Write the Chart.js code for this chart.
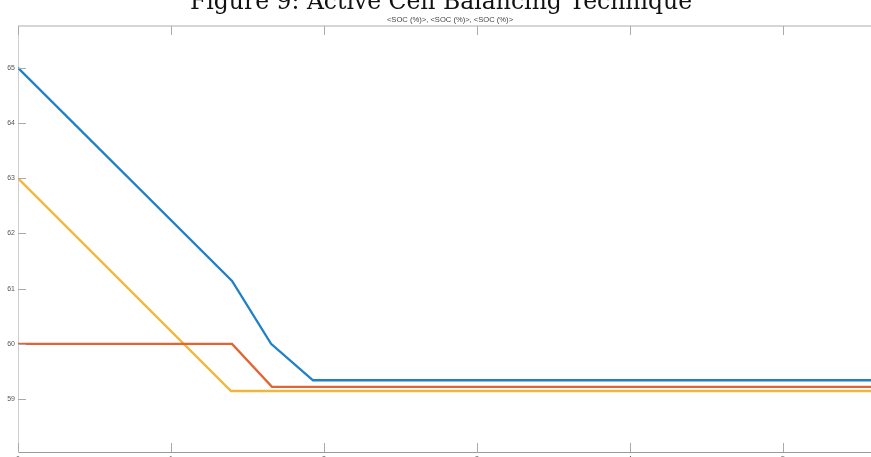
<!DOCTYPE html>
<html>
<head>
<meta charset="utf-8">
<script src="https://cdn.jsdelivr.net/npm/chart.js@4/dist/chart.umd.min.js"></script>
<style>
  html, body { margin: 0; padding: 0; background: #fff; overflow: hidden; }
  #wrap { width: 871px; height: 457px; overflow: hidden; position: relative; }
</style>
</head>
<body>
<div id="wrap"><canvas id="soc" width="950" height="470"></canvas></div>
<script>
// time axis (tick units), and SOC (%) of the three cells
const xTicks = [0, 1, 2, 3, 4, 5, 6];
const yTicks = [59, 60, 61, 62, 63, 64, 65];

const cell1Time = [0, 1.399, 1.654, 1.928, 6];
const cell1Soc = [65, 61.14, 60.0, 59.34, 59.34];

const cell2Time = [0, 1.399, 1.66, 6];
const cell2Soc = [60, 60, 59.22, 59.22];

const cell3Time = [0, 1.392, 6];
const cell3Soc = [63, 59.145, 59.145];

const toPoints = (xs, ys) => xs.map((x, i) => ({ x: x, y: ys[i] }));

// title sits half above the canvas, like the cropped figure
const figureTitle = {
  id: 'figureTitle',
  afterDraw(chart) {
    const ctx = chart.ctx;
    ctx.save();
    ctx.fillStyle = '#111';
    ctx.textAlign = 'center';
    ctx.textBaseline = 'alphabetic';
    ctx.font = '23.5px "DejaVu Serif"';
    ctx.fillText('Figure 9: Active Cell Balancing Technique', 441, 8.5);
    ctx.fillStyle = '#444';
    ctx.font = '7.6px "Liberation Sans"';
    ctx.fillText('<SOC (%)>, <SOC (%)>, <SOC (%)>', 450, 22);
    ctx.restore();
  }
};

// matlab style box with inward tick marks
const boxTicks = {
  id: 'boxTicks',
  afterDatasetsDraw(chart) {
    const { ctx, chartArea: a, scales } = chart;
    ctx.save();
    ctx.strokeStyle = '#d6d6d6';
    ctx.lineWidth = 2;
    ctx.beginPath();
    ctx.moveTo(a.left, a.top);
    ctx.lineTo(a.right, a.top);
    ctx.stroke();
    ctx.strokeStyle = '#aaa';
    ctx.lineWidth = 1;
    ctx.beginPath();
    xTicks.forEach(v => {
      const px = Math.round(scales.x.getPixelForValue(v)) + 0.5;
      ctx.moveTo(px, a.bottom);
      ctx.lineTo(px, a.bottom - 9);
      ctx.moveTo(px, a.top);
      ctx.lineTo(px, a.top + 9);
    });
    yTicks.forEach(v => {
      const py = Math.round(scales.y.getPixelForValue(v)) + 0.5;
      ctx.moveTo(a.left, py);
      ctx.lineTo(a.left + 8, py);
    });
    ctx.stroke();
    ctx.restore();
  }
};

const ctx = document.getElementById('soc').getContext('2d');
new Chart(ctx, {
  type: 'scatter',
  data: {
    datasets: [
      { data: toPoints(cell1Time, cell1Soc), borderColor: '#1f80c8' },
      { data: toPoints(cell2Time, cell2Soc), borderColor: '#e06535' },
      { data: toPoints(cell3Time, cell3Soc), borderColor: '#f0b73a' }
    ].map(d => Object.assign(d, {
      showLine: true,
      borderWidth: 2.3,
      pointRadius: 0,
      tension: 0,
      fill: false
    }))
  },
  options: {
    responsive: false,
    animation: false,
    layout: { padding: { top: 26, left: 0, right: 14, bottom: 0 } },
    plugins: {
      legend: { display: false },
      tooltip: { enabled: false },
      title: { display: false }
    },
    scales: {
      x: {
        type: 'linear',
        min: 0,
        max: 6,
        afterBuildTicks: s => { s.ticks = xTicks.map(v => ({ value: v })); },
        afterFit: s => { s.height = 18; },
        grid: { display: true, drawOnChartArea: false, drawTicks: false, color: 'rgba(0,0,0,0)' },
        border: { display: true, color: '#9a9a9a', width: 1 },
        ticks: { padding: 3, color: '#555', font: { size: 7, family: 'Liberation Sans' } }
      },
      y: {
        position: 'left',
        min: 58.04,
        max: 65.76,
        afterBuildTicks: s => { s.ticks = yTicks.map(v => ({ value: v })); },
        afterFit: s => { s.width = 18; },
        grid: { display: true, drawOnChartArea: false, drawTicks: false, color: 'rgba(0,0,0,0)' },
        border: { display: true, color: '#cfcfcf', width: 1 },
        ticks: { padding: 3, color: '#555', font: { size: 7, family: 'Liberation Sans' } }
      }
    }
  },
  plugins: [figureTitle, boxTicks]
});
</script>
</body>
</html>
